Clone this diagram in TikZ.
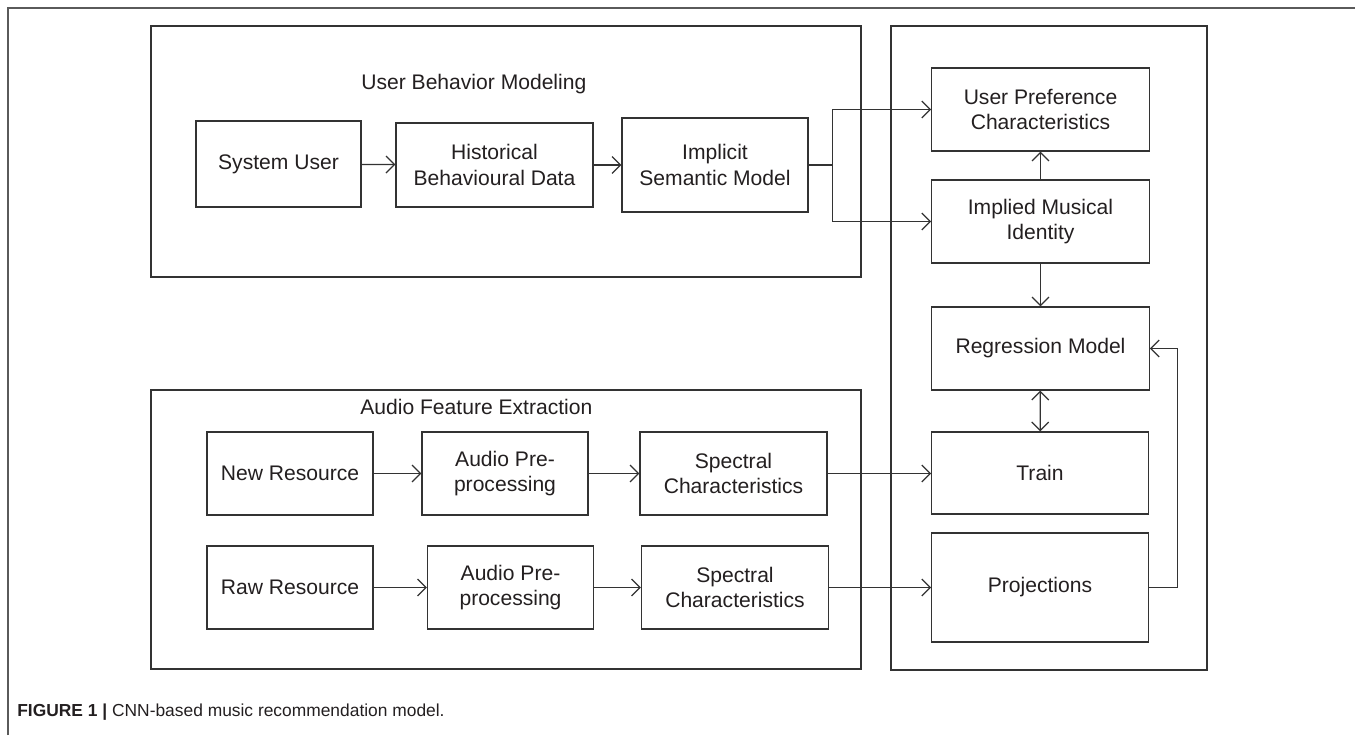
\documentclass[tikz,border=0pt]{standalone}
\usepackage{fontspec}
\setmainfont{Liberation Sans}
\usepackage{tikz}
\usetikzlibrary{arrows.meta,positioning}
\definecolor{FrameGray}{RGB}{90,90,90}
\definecolor{LineGray}{RGB}{51,51,51}
\definecolor{TextGray}{RGB}{35,31,32}

\begin{document}
\begin{tikzpicture}[x=0.02cm,y=-0.02cm,
    box/.style={draw=LineGray, line width=0.7pt, align=center, text=TextGray,
      font=\fontsize{12}{14.5}\selectfont, inner sep=0pt},
    group/.style={draw=LineGray, line width=0.7pt},
    title/.style={anchor=west, text=TextGray, font=\fontsize{12}{14.5}\selectfont, inner sep=0pt},
    link/.style={draw=LineGray, line width=0.7pt, -{Straight Barb[length=1.7mm,width=3.4mm]}}]
  \useasboundingbox (0,0) rectangle (1355,735);
  \draw[FrameGray, line width=0.6pt] (8,735) -- (8,8) -- (1355,8);

  % three frames
  \draw[group] (151,26) rectangle (861,277);
  \draw[group] (151,390) rectangle (861,669);
  \draw[group] (891,26) rectangle (1207,670);
  \node[title] (usertitle) at (361,84) {User Behavior Modeling};
  \node[title] (audiotitle) at (360,407) {Audio Feature Extraction};

  % user side
  \node[box, minimum width=3.3cm, minimum height=1.72cm] (sysuser) at (278.5,164) {System User};
  \node[box, minimum width=3.94cm, minimum height=1.68cm] (histdata) at (494.5,165) {Historical\\Behavioural Data};
  \node[box, minimum width=3.72cm, minimum height=1.88cm] (semmodel) at (715,165) {Implicit\\Semantic Model};

  % audio side
  \foreach \row/\src/\y/\px/\sx in {new/New Resource/473.5/505/733.5, raw/Raw Resource/587.5/510.5/735} {
    \node[box, minimum width=3.32cm, minimum height=1.66cm] (\row res) at (290,\y) {\src};
    \node[box, minimum width=3.32cm, minimum height=1.66cm] (\row prep) at (\px,\y) {Audio Pre-\\processing};
    \node[box, minimum width=3.74cm, minimum height=1.66cm] (\row spec) at (\sx,\y) {Spectral\\Characteristics};
    \draw[link] (\row res) -- (\row prep);
    \draw[link] (\row prep) -- (\row spec);
  }

  % model column
  \node[box, minimum width=4.35cm, minimum height=1.66cm] (userpref) at (1040.5,109.5) {User Preference\\Characteristics};
  \node[box, minimum width=4.35cm, minimum height=1.66cm] (musicid) at (1040.5,221.5) {Implied Musical\\Identity};
  \node[box, minimum width=4.35cm, minimum height=1.66cm] (regmodel) at (1040.5,348.5) {Regression Model};
  \node[box, minimum width=4.33cm, minimum height=1.64cm] (train) at (1040,473) {Train};
  \node[box, minimum width=4.33cm, minimum height=2.18cm] (proj) at (1040,587.5) {Projections};

  \draw[link] (sysuser) -- (histdata);
  \draw[link] (histdata) -- (semmodel);
  \draw[link] (semmodel.east) -- ++(24,0) |- (userpref.west);
  \draw[link] (semmodel.east) -- ++(24,0) |- (musicid.west);
  \draw[link] (musicid) -- (userpref);
  \draw[link] (musicid) -- (regmodel);
  \draw[link, {Straight Barb[length=1.7mm,width=3.4mm]}-{Straight Barb[length=1.7mm,width=3.4mm]}] (regmodel) -- (train);
  \draw[link] (newspec.east) -- (newspec.east -| train.west);
  \draw[link] (rawspec.east) -- (rawspec.east -| proj.west);
  \draw[link] (proj.east) -- ++(29,0) |- (regmodel.east);

  \node[anchor=base west, inner sep=0pt, text=TextGray, font=\fontsize{9.9}{12}\selectfont] (caption) at (17,716)
    {\textbf{FIGURE 1 \textbar}\ CNN-based music recommendation model.};
\end{tikzpicture}
\end{document}
